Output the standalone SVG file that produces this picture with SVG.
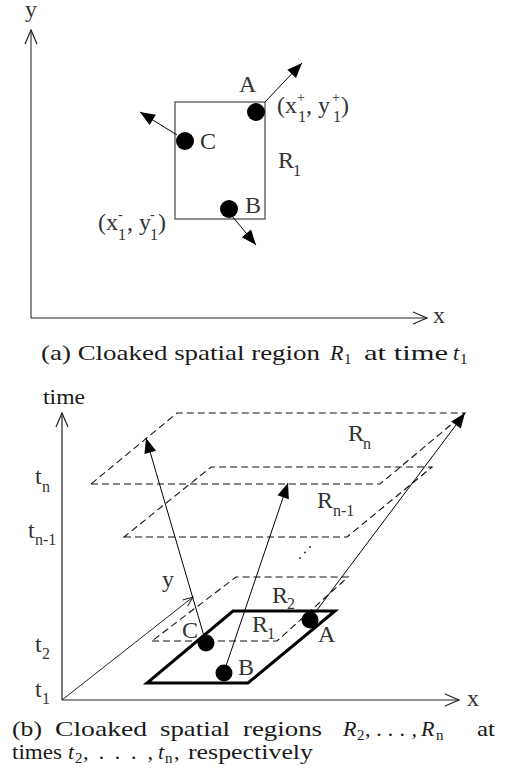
<svg xmlns="http://www.w3.org/2000/svg" width="506" height="771" viewBox="0 0 506 771">
<style>
.lbl{font-family:"Liberation Serif","Times New Roman",serif;font-size:24px;fill:#333}
.sub{font-family:"Liberation Serif","Times New Roman",serif;font-size:16px;fill:#333}
.cap{font-family:"Liberation Serif","Times New Roman",serif;font-size:22px;fill:#1a1a1a}
.capi{font-family:"Liberation Serif","Times New Roman",serif;font-size:22px;font-style:italic;fill:#1a1a1a}
.caps{font-family:"Liberation Serif","Times New Roman",serif;font-size:15px;fill:#1a1a1a}
.axis{stroke:#222;stroke-width:1.2;fill:none}
.arr{stroke:#000;stroke-width:1;fill:none}
.dash{stroke:#111;stroke-width:1.1;fill:none;stroke-dasharray:7 4}
.dot{fill:#000}
</style>
<defs>
<marker id="open" viewBox="0 0 14 12" refX="14" refY="6" markerWidth="14" markerHeight="12" markerUnits="userSpaceOnUse" orient="auto" overflow="visible">
<path d="M0,0 L14,6 L0,12" fill="none" stroke="#222" stroke-width="1.2"/>
</marker>
<marker id="openS" viewBox="0 0 10 8" refX="10" refY="4" markerWidth="10" markerHeight="8" markerUnits="userSpaceOnUse" orient="auto" overflow="visible">
<path d="M0,0 L10,4 L0,8" fill="none" stroke="#222" stroke-width="1"/>
</marker>
<marker id="fill" viewBox="0 0 15 12" refX="15" refY="6" markerWidth="15" markerHeight="12" markerUnits="userSpaceOnUse" orient="auto" overflow="visible">
<path d="M0,0 L15,6 L0,12 z" fill="#000"/>
</marker>
</defs>

<!-- ===== (a) ===== -->
<g id="axes-a">
<line x1="31" y1="318" x2="31" y2="30" class="axis" style="stroke:#666;stroke-width:1.5" marker-end="url(#open)"/>
<line x1="31" y1="318" x2="427" y2="318" class="axis" marker-end="url(#open)"/>
<text class="lbl" x="25" y="17">y</text>
<text class="lbl" x="433" y="323">x</text>
</g>
<g id="region-R1a">
<rect x="175" y="102" width="90" height="117" fill="none" stroke="#555" stroke-width="1.3"/>
<text class="lbl" x="278" y="168">R</text><text class="sub" x="293" y="176">1</text>
<text class="lbl" x="277" y="113">(x</text><text class="sub" x="297" y="102" style="font-size:14px">+</text><text class="sub" x="298" y="122">1</text>
<text class="lbl" x="306" y="113">, y</text><text class="sub" x="332" y="102" style="font-size:14px">+</text><text class="sub" x="333" y="122">1</text>
<text class="lbl" x="341" y="113">)</text>
<text class="lbl" x="98" y="230">(x</text><text class="sub" x="118" y="219" style="font-size:14px">-</text><text class="sub" x="118" y="240">1</text>
<text class="lbl" x="127" y="230">, y</text><text class="sub" x="150" y="219" style="font-size:14px">-</text><text class="sub" x="150" y="240">1</text>
<text class="lbl" x="158" y="230">)</text>
</g>
<g id="nodeA-a"><circle class="dot" cx="256" cy="112" r="9"/><text class="lbl" x="239" y="92">A</text></g>
<g id="nodeB-a"><circle class="dot" cx="229" cy="209" r="9"/><text class="lbl" x="245" y="213">B</text></g>
<g id="nodeC-a"><circle class="dot" cx="185" cy="141" r="9"/><text class="lbl" x="200" y="149">C</text></g>
<g id="connectors-a">
<line x1="265" y1="102" x2="302" y2="63" class="arr" marker-end="url(#fill)"/>
<line x1="177" y1="135" x2="140" y2="112" class="arr" marker-end="url(#fill)"/>
<line x1="232" y1="216" x2="256" y2="245" class="arr" marker-end="url(#fill)"/>
</g>
<g id="caption-a">
<text class="cap" x="41" y="360" textLength="279" lengthAdjust="spacingAndGlyphs">(a) Cloaked spatial region</text>
<text class="capi" x="330" y="360">R</text><text class="caps" x="344" y="364">1</text>
<text class="cap" x="364" y="360" textLength="84" lengthAdjust="spacingAndGlyphs">at time</text>
<text class="capi" x="453" y="360">t</text><text class="caps" x="460" y="364">1</text>
</g>

<!-- ===== (b) ===== -->
<g id="axes-b">
<line x1="62" y1="700" x2="62" y2="413" class="axis" marker-end="url(#open)"/>
<line x1="62" y1="700" x2="459" y2="700" class="axis" marker-end="url(#open)"/>
<line x1="62" y1="700" x2="193" y2="597" class="axis" style="stroke-width:1" marker-end="url(#openS)"/>
<text class="cap" x="43" y="404" textLength="42" lengthAdjust="spacingAndGlyphs">time</text>
<text class="lbl" x="467" y="706">x</text>
<text class="lbl" x="162" y="587">y</text>
<text class="lbl" x="35" y="484">t</text><text class="sub" x="42" y="492">n</text>
<text class="lbl" x="28" y="538">t</text><text class="sub" x="35" y="545">n-1</text>
<text class="lbl" x="35" y="652">t</text><text class="sub" x="42" y="659">2</text>
<text class="lbl" x="35" y="697">t</text><text class="sub" x="42" y="704">1</text>
</g>
<g id="region-Rn">
<polygon points="91,484 380,484 465,413 177,413" class="dash"/>
<text class="lbl" x="348" y="441">R</text><text class="sub" x="363" y="449">n</text>
</g>
<g id="region-Rn-1">
<polygon points="124,537 347,537 432,467 211,467" class="dash"/>
<text class="lbl" x="317" y="508">R</text><text class="sub" x="333" y="516">n-1</text>
</g>
<g id="ellipsis">
<circle cx="300" cy="558" r="1" fill="#333"/>
<circle cx="305" cy="552.5" r="1" fill="#333"/>
<circle cx="310" cy="547" r="1" fill="#333"/>
</g>
<g id="region-R2">
<polygon points="152,641 277,641 348,577 236,577" class="dash"/>
<text class="lbl" x="272" y="603">R</text><text class="sub" x="287" y="609">2</text>
</g>
<g id="region-R1b">
<polygon points="147,683 248,683 335,611 233,611" fill="none" stroke="#000" stroke-width="3"/>
<text class="lbl" x="252" y="632">R</text><text class="sub" x="267" y="639">1</text>
</g>
<g id="connectors-b">
<line x1="204" y1="636" x2="146" y2="438" class="arr" marker-end="url(#fill)"/>
<line x1="226" y1="666" x2="288" y2="483" class="arr" marker-end="url(#fill)"/>
<line x1="314" y1="614" x2="465" y2="413" class="arr" marker-end="url(#fill)"/>
</g>
<g id="nodeC-b"><circle class="dot" cx="206" cy="643" r="8.5"/><text class="lbl" x="182" y="638">C</text></g>
<g id="nodeB-b"><circle class="dot" cx="224" cy="673" r="8.5"/><text class="lbl" x="238" y="675">B</text></g>
<g id="nodeA-b"><circle class="dot" cx="310" cy="620" r="8.5"/><text class="lbl" x="318" y="642">A</text></g>
<g id="caption-b">
<text class="cap" x="12" y="736" textLength="30" lengthAdjust="spacingAndGlyphs">(b)</text>
<text class="cap" x="55" y="736" textLength="92" lengthAdjust="spacingAndGlyphs">Cloaked</text>
<text class="cap" x="160" y="736" textLength="70" lengthAdjust="spacingAndGlyphs">spatial</text>
<text class="cap" x="243" y="736" textLength="79" lengthAdjust="spacingAndGlyphs">regions</text>
<text class="capi" x="343" y="736">R</text><text class="caps" x="357" y="740">2</text>
<text class="capi" x="365" y="736" textLength="52" lengthAdjust="spacing">, . . . ,</text>
<text class="capi" x="421" y="736">R</text><text class="caps" x="436" y="740">n</text>
<text class="cap" x="477" y="736" textLength="18" lengthAdjust="spacingAndGlyphs">at</text>
<text class="cap" x="12" y="759" textLength="50" lengthAdjust="spacingAndGlyphs">times</text>
<text class="capi" x="68" y="759">t</text><text class="caps" x="75" y="763">2</text>
<text class="capi" x="83" y="759" textLength="70" lengthAdjust="spacing">, . . . ,</text>
<text class="capi" x="158" y="759">t</text><text class="caps" x="165" y="763">n</text>
<text class="cap" x="174" y="759">,</text>
<text class="cap" x="188" y="759" textLength="125" lengthAdjust="spacingAndGlyphs">respectively</text>
</g>
</svg>
